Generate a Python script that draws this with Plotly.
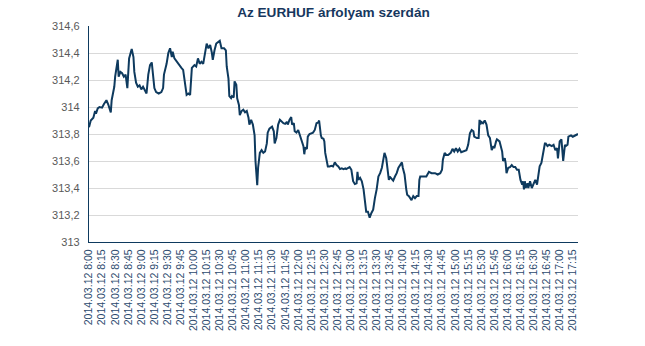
import pandas as pd
import plotly.graph_objects as go

title_text = "Az EURHUF árfolyam szerdán"

# minutes after 2014.03.12 8:00
minutes = [
    0, 2, 5, 7, 8, 10, 12, 15, 17, 20, 22, 25, 26, 29, 30, 32, 33, 34, 36, 38, 40, 42, 44, 46, 48, 49, 51, 52, 54, 56,
    58, 60, 62, 64, 66, 68, 70, 72, 73, 75, 77, 80, 83, 85, 86, 88, 89, 91, 93, 95, 96, 98, 100, 103, 106, 108, 110,
    112, 114, 116, 118, 119, 121, 123, 125, 127, 129, 131, 133, 135, 137, 139, 141, 142, 144, 146, 150, 152, 155, 157,
    158, 160, 161, 163, 164, 166, 167, 169, 170, 172, 173, 175, 177, 179, 181, 183, 184, 186, 188, 190, 191, 193, 194,
    196, 198, 200, 202, 204, 205, 207, 210, 212, 213, 215, 217, 219,
    223, 225, 227, 228, 230, 232, 233, 235, 236, 238, 240, 242, 244, 246, 247, 248, 250, 251, 253, 257, 259, 261, 263,
    264, 266, 267, 269, 270, 271, 273, 274, 276, 278, 280, 282, 284, 286, 288, 290, 292, 294, 295, 297, 299, 301, 303,
    305, 307, 308, 309, 311, 313, 315, 317, 318, 320, 322, 324, 326, 328, 330, 332, 334,
    336, 338, 339, 341, 342, 344, 345, 347, 349, 351, 353, 355, 357, 359, 360, 362, 364, 365, 367, 368, 370, 372, 374,
    376, 378, 379, 380, 383, 387, 390, 393, 397, 400, 403, 405, 406, 408, 410, 412, 415, 417, 419, 421, 423, 425, 427,
    430, 433, 435, 437, 439, 441, 442, 445, 447, 448,
    449, 450, 452, 454, 456, 458, 460, 461, 462, 464, 465, 467, 468, 471, 472, 474, 475, 477, 478, 479, 481, 483, 485,
    487, 489, 491, 493, 494, 495, 497, 498, 499, 500, 501, 503, 504, 506, 508, 510, 512, 514, 516, 517, 519, 521, 523,
    524, 526, 528, 531, 533, 535, 537, 538, 540, 542, 544, 546, 547, 549, 550, 553, 555, 557, 559, 561,
]

rates = [
    313.85, 313.90, 313.92, 313.97, 313.95, 313.99, 314.00, 313.995, 314.02, 314.05, 314.02, 313.96, 314.05, 314.15,
    314.225, 314.32, 314.35, 314.225, 314.26, 314.25, 314.225, 314.24, 314.14, 314.36, 314.41, 314.43, 314.37, 314.26,
    314.18, 314.15, 314.16, 314.13, 314.15, 314.13, 314.10, 314.24, 314.31, 314.33, 314.26, 314.14, 314.11, 314.10,
    314.11, 314.14, 314.24, 314.29, 314.32, 314.40, 314.435, 314.37, 314.41, 314.36, 314.34, 314.32, 314.29, 314.275,
    314.165,
    314.09, 314.10, 314.09, 314.29, 314.30, 314.31, 314.30, 314.36, 314.32, 314.335, 314.32, 314.41, 314.47, 314.435,
    314.46, 314.40, 314.35, 314.42, 314.47, 314.49, 314.435, 314.435, 314.42, 314.30, 314.21, 314.08, 314.065, 314.08,
    314.07, 314.19, 314.165, 314.065, 314.015, 313.94, 313.97, 313.98, 313.96, 313.97, 313.92, 313.87, 313.905, 313.87,
    313.79, 313.60, 313.42, 313.55, 313.66, 313.68, 313.66, 313.67, 313.73, 313.81, 313.84, 313.855, 313.82, 313.73,
    313.77, 313.87, 313.905,
    313.88, 313.875, 313.89, 313.87, 313.905, 313.925, 313.87, 313.88, 313.82, 313.81, 313.83, 313.79, 313.76, 313.71,
    313.65, 313.70, 313.69, 313.78, 313.80, 313.81, 313.83, 313.88, 313.885, 313.90, 313.79, 313.77, 313.765, 313.745,
    313.66, 313.60, 313.56, 313.56, 313.565, 313.56, 313.59, 313.57, 313.56, 313.54, 313.545, 313.54, 313.545, 313.54,
    313.545, 313.555, 313.535, 313.45, 313.43, 313.435, 313.52, 313.46, 313.475, 313.45, 313.39, 313.24, 313.225,
    313.225, 313.18, 313.215, 313.24, 313.325, 313.39, 313.485, 313.51,
    313.55, 313.635, 313.66, 313.62, 313.55, 313.46, 313.485, 313.47, 313.455, 313.485, 313.51, 313.55, 313.57, 313.59,
    313.55, 313.50, 313.39, 313.35, 313.34, 313.33, 313.31, 313.34, 313.325, 313.34, 313.34, 313.46, 313.485, 313.485,
    313.485, 313.52, 313.51, 313.51, 313.50, 313.51, 313.535, 313.61, 313.66, 313.645, 313.645, 313.66, 313.69, 313.67,
    313.695, 313.67, 313.69, 313.665, 313.67, 313.68, 313.72, 313.805, 313.83, 313.82, 313.78, 313.77, 313.77, 313.905,
    313.87, 313.89, 313.88, 313.90, 313.87, 313.79, 313.77, 313.695, 313.68, 313.71, 313.695, 313.745, 313.76, 313.745,
    313.71, 313.67, 313.60, 313.62, 313.585, 313.51, 313.55, 313.555, 313.57, 313.555, 313.555, 313.535, 313.535,
    313.50, 313.46, 313.425, 313.45, 313.39, 313.45, 313.40, 313.435, 313.40, 313.45, 313.40, 313.425, 313.46, 313.425,
    313.51, 313.56, 313.585, 313.66, 313.73, 313.73, 313.71, 313.72, 313.71, 313.72, 313.68, 313.695, 313.62, 313.745,
    313.76, 313.60, 313.72, 313.71, 313.72, 313.78, 313.79, 313.78, 313.785, 313.79, 313.80,
]

if len(minutes) != len(rates):
    raise ValueError(f"length mismatch {len(minutes)} vs {len(rates)}")

x_tick_labels = [
    "2014.03.12 8:00", "2014.03.12 8:15", "2014.03.12 8:30", "2014.03.12 8:45",
    "2014.03.12 9:00", "2014.03.12 9:15", "2014.03.12 9:30", "2014.03.12 9:45",
    "2014.03.12 10:00", "2014.03.12 10:15", "2014.03.12 10:30", "2014.03.12 10:45",
    "2014.03.12 11:00", "2014.03.12 11:15", "2014.03.12 11:30", "2014.03.12 11:45",
    "2014.03.12 12:00", "2014.03.12 12:15", "2014.03.12 12:30", "2014.03.12 12:45",
    "2014.03.12 13:00", "2014.03.12 13:15", "2014.03.12 13:30", "2014.03.12 13:45",
    "2014.03.12 14:00", "2014.03.12 14:15", "2014.03.12 14:30", "2014.03.12 14:45",
    "2014.03.12 15:00", "2014.03.12 15:15", "2014.03.12 15:30", "2014.03.12 15:45",
    "2014.03.12 16:00", "2014.03.12 16:15", "2014.03.12 16:30", "2014.03.12 16:45",
    "2014.03.12 17:00", "2014.03.12 17:15",
]

y_tick_values = [313, 313.2, 313.4, 313.6, 313.8, 314, 314.2, 314.4, 314.6]
y_tick_labels = ["313", "313,2", "313,4", "313,6", "313,8", "314", "314,2", "314,4", "314,6"]

start = pd.Timestamp("2014-03-12 08:00")
x_times = [start + pd.Timedelta(minutes=m) for m in minutes]
x_tick_times = [pd.to_datetime(s, format="%Y.%m.%d %H:%M") for s in x_tick_labels]

navy = "#0E3A5E"

fig = go.Figure()
fig.add_trace(go.Scatter(
    x=x_times, y=rates, mode="lines",
    line=dict(color=navy, width=2),
    hoverinfo="skip",
))

fig.update_layout(
    width=645, height=346,
    margin=dict(l=89, r=67, t=26, b=104),
    paper_bgcolor="white", plot_bgcolor="white",
    showlegend=False,
    title=dict(text=title_text, x=0.517, xanchor="center", y=1 - 12.5 / 346, yanchor="middle",
               font=dict(family="Liberation Sans, Arial, sans-serif", size=13.6, color="#17375E", weight="bold")),
    font=dict(family="Liberation Sans, Arial, sans-serif"),
)

fig.update_xaxes(
    type="date",
    range=[start, start + pd.Timedelta(minutes=561)],
    tickmode="array", tickvals=x_tick_times, ticktext=x_tick_labels,
    tickangle=-90, ticks="", showgrid=False, zeroline=False,
    showline=True, linecolor=navy, linewidth=1.3,
    ticklabelstandoff=2,
    tickfont=dict(size=10.5, color="#2C4A6E"),
)

fig.update_yaxes(
    range=[313, 314.6],
    tickmode="array", tickvals=y_tick_values, ticktext=y_tick_labels,
    ticks="", showgrid=True, gridcolor="#D9D9D9", gridwidth=1, zeroline=False,
    showline=True, linecolor=navy, linewidth=1.3,
    ticklabelstandoff=6,
    tickfont=dict(size=11, color="#595959"),
)

fig.write_html("out.html")
